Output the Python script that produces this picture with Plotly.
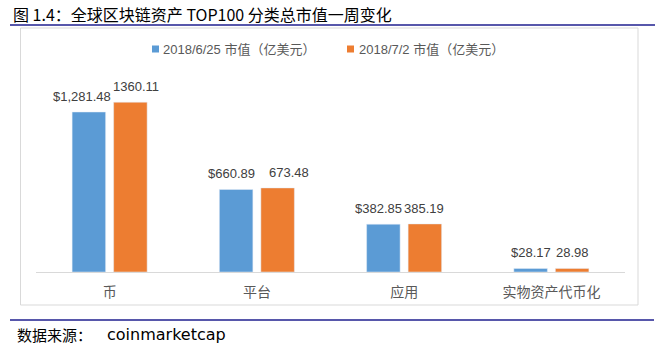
import plotly.graph_objects as go

categories = ["币", "平台", "应用", "实物资产代币化"]
series_names = ["2018/6/25 市值（亿美元）", "2018/7/2 市值（亿美元）"]
values_0625 = [1281.48, 660.89, 382.85, 28.17]
values_0702 = [1360.11, 673.48, 385.19, 28.98]
labels_0625 = ["$1,281.48", "$660.89", "$382.85", "$28.17"]
labels_0702 = ["1360.11", "673.48", "385.19", "28.98"]
colors = ["#5B9BD5", "#ED7D31"]

W, H = 662, 349
L, R, T, B = 36, 625, 60, 272  # plot area in pixels

def px(x):
    return (x - L) / (R - L)

def py(y):
    return (B - y) / (B - T)

FONT = "Liberation Sans, Noto Sans CJK SC, sans-serif"
CJK = "Noto Sans CJK SC, sans-serif"
TXT = "#595959"

BARGAP, BARGROUPGAP = 0.436, 0.193
cat_w = (R - L) / len(categories)
slot = cat_w * (1 - BARGAP) / 2
# label nudges (px) mimicking the original's overlap avoidance
nudge_a = [-6.5, -5, -5, 0]
nudge_b = [6, 11, -1, 0]

fig = go.Figure()
annotations = []
for i, (name, vals, labs, col, nudges) in enumerate([
    (series_names[0], values_0625, labels_0625, colors[0], nudge_a),
    (series_names[1], values_0702, labels_0702, colors[1], nudge_b),
]):
    fig.add_trace(go.Bar(
        x=categories, y=vals, name=name, marker_color=col,
        showlegend=False, hoverinfo="x+y",
    ))
    side = -1 if i == 0 else 1
    for c, v, t, n in zip(categories, vals, labs, nudges):
        annotations.append(dict(
            x=c, y=v, xref="x", yref="y", text=t, showarrow=False,
            xanchor="center", yanchor="middle",
            xshift=side * slot / 2 + n, yshift=15.5,
            font=dict(size=13, color="#404040", family=FONT)))

shapes = [
    dict(type="rect", xref="paper", yref="paper",
         x0=px(20.5), x1=px(638), y0=py(305), y1=py(28),
         line=dict(color="#D9D9D9", width=1), layer="below"),
    dict(type="line", xref="paper", yref="paper",
         x0=px(10), x1=px(655), y0=py(25), y1=py(25),
         line=dict(color="#1F1F8F", width=1.5)),
    dict(type="line", xref="paper", yref="paper",
         x0=px(10), x1=px(654), y0=py(320), y1=py(320),
         line=dict(color="#1F1F8F", width=1.5)),
]

# manual legend
legend_pos = [(152, 161), (347, 357)]
for (sx, tx), name, col in zip(legend_pos, series_names, colors):
    shapes.append(dict(type="rect", xref="paper", yref="paper",
                       x0=px(sx), x1=px(sx + 7), y0=py(52.5), y1=py(45.5),
                       fillcolor=col, line=dict(width=0)))
    annotations.append(dict(text=name, xref="paper", yref="paper",
                            x=px(tx), y=py(49), xanchor="left", yanchor="middle",
                            showarrow=False,
                            font=dict(size=13, color=TXT, family=FONT)))

annotations += [
    dict(text="图 1.4：全球区块链资产 TOP100 分类总市值一周变化", xref="paper", yref="paper",
         x=px(11), y=py(14), xanchor="left", yanchor="middle", showarrow=False,
         font=dict(size=16, color="#000000", family=CJK)),
    dict(text="数据来源：", xref="paper", yref="paper",
         x=px(15), y=py(334), xanchor="left", yanchor="middle", showarrow=False,
         font=dict(size=15, color="#000000", family=CJK)),
    dict(text="coinmarketcap", xref="paper", yref="paper",
         x=px(105), y=py(334), xanchor="left", yanchor="middle", showarrow=False,
         font=dict(size=16, color="#000000", family="DejaVu Sans, sans-serif")),
]

fig.update_layout(
    width=W, height=H,
    margin=dict(l=L, r=W - R, t=T, b=H - B, autoexpand=False),
    paper_bgcolor="white", plot_bgcolor="white",
    barmode="group", bargap=BARGAP, bargroupgap=BARGROUPGAP,
    showlegend=False,
    xaxis=dict(showline=True, linecolor="#D9D9D9", linewidth=1, ticks="",
               tickfont=dict(size=14, color=TXT, family=CJK),
               ticklabelstandoff=7),
    yaxis=dict(range=[0, 1698], visible=False, showgrid=False),
    shapes=shapes, annotations=annotations,
)

fig.write_html("out.html")
